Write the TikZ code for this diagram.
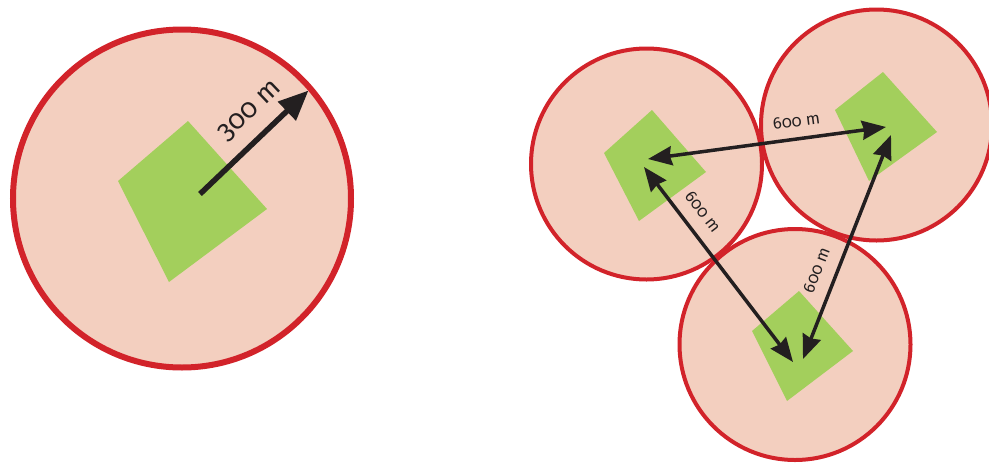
\documentclass[tikz,border=0pt]{standalone}
\usepackage{fontspec}
\setmainfont[Numbers=OldStyle]{Fira Sans}
\usetikzlibrary{arrows.meta}
\definecolor{zonefill}{RGB}{243,207,191}
\definecolor{zonered}{RGB}{210,35,42}
\definecolor{sitegreen}{RGB}{163,207,92}
\definecolor{arrowblack}{RGB}{35,31,32}
\tikzset{
  zone/.style={fill=zonefill},
  bigring/.style={draw=zonered, line width=6pt},
  ring/.style={draw=zonered, line width=4pt},
  site/.style={fill=sitegreen},
  bigarrow/.style={draw=arrowblack, line width=5.5pt, -{Triangle[length=30pt,width=25pt]}},
  distarrow/.style={draw=arrowblack, line width=3.5pt, {Stealth[length=24pt,width=19pt,inset=2pt]}-{Stealth[length=24pt,width=19pt,inset=2pt]}},
  biglabel/.style={text=arrowblack, font=\fontsize{27}{29}\selectfont, inner sep=0pt},
  distlabel/.style={text=arrowblack, font=\fontsize{16.5}{18}\selectfont, inner sep=0pt}
}
\begin{document}
\begin{tikzpicture}[x=1pt,y=-1pt]
\useasboundingbox (0,0) rectangle (989,464);
% centres
\coordinate (L) at (182,198.5);
\coordinate (A) at (646.5,164);
\coordinate (B) at (876.5,125);
\coordinate (C) at (795,344.5);
% fills
\fill[zone] (L) circle (169);
\fill[zone] (A) circle (115.5);
\fill[zone] (B) circle (115.5);
\fill[zone] (C) circle (115.5);
% outlines
\draw[bigring] (L) circle (169);
\draw[ring] (A) circle (115.5);
\draw[ring] (B) circle (115.5);
\draw[ring] (C) circle (115.5);
% sites
\fill[site] (188,121) -- (267,209) -- (169,282) -- (118,181) -- cycle;
\fill[site] (652,110) -- (706,172) -- (639,221) -- (604,153) -- cycle;
\fill[site] (883,72) -- (937,132) -- (869,181) -- (835,110) -- cycle;
\fill[site] (799,291) -- (853,351) -- (787,401) -- (752,331) -- cycle;
% arrow ends
\coordinate (Ls) at (200,194);
\coordinate (Lt) at (308.5,90.5);
\coordinate (AB1) at (648,159);
\coordinate (AB2) at (886,127);
\coordinate (AC1) at (644,167);
\coordinate (AC2) at (793,362);
\coordinate (BC1) at (891,135);
\coordinate (BC2) at (803,359);
% arrows
\draw[bigarrow] (Ls) -- (Lt);
\draw[distarrow] (AB1) -- (AB2);
\draw[distarrow] (AC1) -- (AC2);
\draw[distarrow] (BC1) -- (BC2);
% labels
\node[biglabel, rotate=43.6] (l300) at (250,111) {300 m};
\node[distlabel, rotate=7.7] (lab) at (796.5,121) {600 m};
\node[distlabel, rotate=-52.6] (lac) at (703,212) {600 m};
\node[distlabel, rotate=68.6] (lbc) at (816.5,270) {600 m};
\end{tikzpicture}
\end{document}
